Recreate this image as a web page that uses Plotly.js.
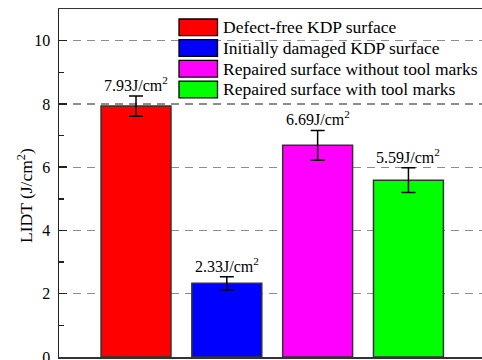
<!DOCTYPE html>
<html>
<head>
<meta charset="utf-8">
<script src="https://cdn.plot.ly/plotly-3.0.1.min.js"></script>
<style>
  html, body { margin: 0; padding: 0; overflow: hidden; background: #fff; }
  #chart { width: 482px; height: 360px; }
</style>
</head>
<body>
<div id="chart"></div>
<script>
// Laser-induced damage threshold of KDP surfaces
const surfaces = [
  'Defect-free KDP surface',
  'Initially damaged KDP surface',
  'Repaired surface without tool marks',
  'Repaired surface with tool marks'
];
const lidt = [7.93, 2.33, 6.69, 5.59];
const lidtErr = [0.32, 0.21, 0.47, 0.39];
const barColors = ['#ff0000', '#0000ff', '#ff00ff', '#00ff00'];
const yTicks = [0, 2, 4, 6, 8, 10];

const serif = 'Liberation Serif';
const positions = surfaces.map((_, i) => i + 1);

// plot-area geometry in pixels (for paper-coordinate placement)
const L = 59, W = 423, T = 9, B = 357, H = B - T;
const px = x => (x - L) / W;
const py = y => (B - y) / H;

const traces = [{
  type: 'bar',
  x: positions,
  y: lidt,
  width: 0.77,
  marker: { color: barColors, line: { color: '#333333', width: 1.5 } },
  error_y: { type: 'data', array: lidtErr, visible: true, color: '#000', thickness: 1.5, width: 7 },
  showlegend: false,
  hoverinfo: 'skip'
}];

const annotations = lidt.map((v, i) => ({
  x: positions[i], y: v + lidtErr[i], xref: 'x', yref: 'y',
  text: v.toFixed(2) + 'J/cm<sup>2</sup>',
  showarrow: false, yanchor: 'bottom', yshift: 0,
  font: { family: serif, size: 16, color: '#000' }
}));

// Legend block: swatch + label per surface
const shapes = [];
const legX0 = 179, legW = 38.5, legH = 16.7, legTop = 19, legStep = 20.7;
surfaces.forEach((name, i) => {
  const y0 = legTop + i * legStep;
  shapes.push({
    type: 'rect', xref: 'paper', yref: 'paper', layer: 'above',
    x0: px(legX0), x1: px(legX0 + legW),
    y0: py(y0), y1: py(y0 + legH),
    fillcolor: barColors[i], line: { color: '#000', width: 1.3 }
  });
  annotations.push({
    xref: 'paper', yref: 'paper',
    x: px(legX0 + legW + 3), y: py(y0 + legH / 2),
    xanchor: 'left', yanchor: 'middle', showarrow: false,
    text: name, font: { family: serif, size: 17.5, color: '#000' }
  });
});

// Y-axis title
annotations.push({
  xref: 'paper', yref: 'paper', x: px(25), y: py(196),
  xanchor: 'center', yanchor: 'middle', textangle: -90, showarrow: false,
  text: 'LIDT (J/cm<sup>2</sup>)', font: { family: serif, size: 17.5, color: '#000' }
});

const layout = {
  width: 482, height: 360,
  margin: { l: L, r: 482 - L - W, t: T, b: 360 - B },
  paper_bgcolor: '#fff', plot_bgcolor: '#fff',
  font: { family: serif, color: '#000' },
  xaxis: {
    range: [0.152, 4.81], showticklabels: false, ticks: '',
    showgrid: false, zeroline: false,
    showline: true, linecolor: '#333', linewidth: 1.5, mirror: true
  },
  yaxis: {
    range: [0, 11], tickvals: yTicks, ticks: 'inside', ticklen: 8, tickwidth: 1.5,
    tickcolor: '#222', ticklabelstandoff: 4, ticklabeloverflow: 'allow',
    minor: { dtick: 1, ticks: 'inside', ticklen: 5, tickwidth: 1.5, tickcolor: '#222', showgrid: false },
    showgrid: true, gridcolor: '#8c8c8c', gridwidth: 1.2, griddash: '8px,6px',
    zeroline: false, showline: true, linecolor: '#222', linewidth: 1.5, mirror: false,
    tickfont: { family: serif, size: 16, color: '#000' }
  },
  shapes: shapes,
  annotations: annotations,
  showlegend: false
};

Plotly.newPlot('chart', traces, layout, { displayModeBar: false, staticPlot: true });
</script>
</body>
</html>
